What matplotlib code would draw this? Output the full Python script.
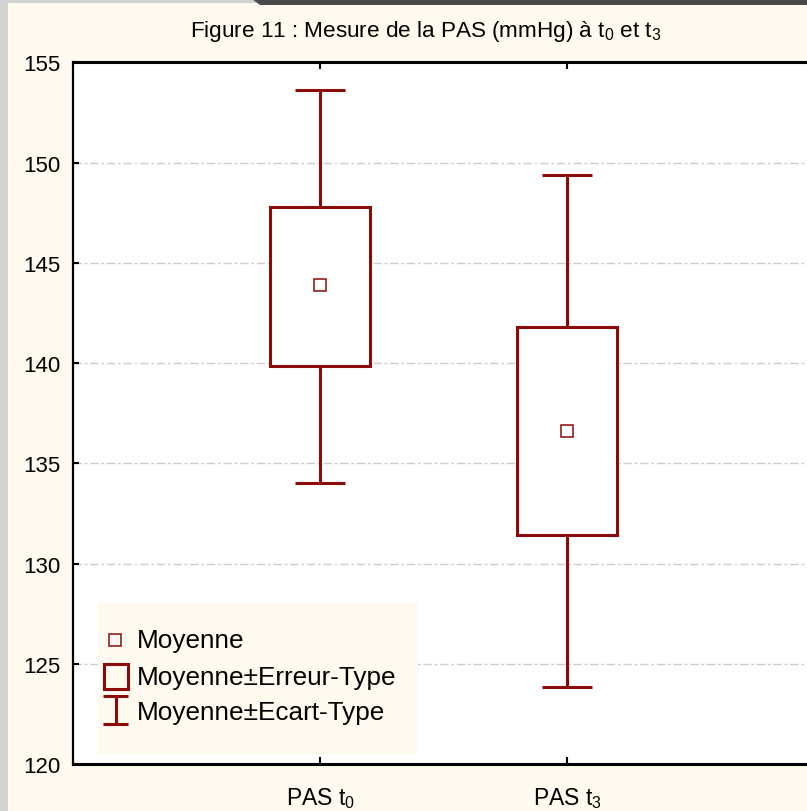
import matplotlib
matplotlib.use("Agg")
import matplotlib.pyplot as plt
from matplotlib.patches import Rectangle, Polygon
from matplotlib.lines import Line2D
from matplotlib.transforms import Affine2D

plt.rcParams['font.family'] = ['Liberation Sans', 'DejaVu Sans']
plt.rcParams['mathtext.fontset'] = 'custom'
plt.rcParams['mathtext.rm'] = 'Liberation Sans'
plt.rcParams['mathtext.it'] = 'Liberation Sans'
plt.rcParams['mathtext.bf'] = 'Liberation Sans'

# ---- data ----
categories = [r'PAS t$_0$', r'PAS t$_3$']
means = [143.9, 136.6]
se_low = [139.85, 131.4]
se_high = [147.8, 141.8]
sd_low = [134.0, 123.85]
sd_high = [153.6, 149.4]
yticks = [120, 125, 130, 135, 140, 145, 150, 155]

W, H = 807, 812
DPI = 100
RED = '#8B0A0A'
BG = '#FFFAF0'

fig = plt.figure(figsize=(W / DPI, H / DPI), dpi=DPI, facecolor=BG)
px = Affine2D().scale(1 / W, -1 / H).translate(0, 1) + fig.transFigure

# screenshot frame
fig.patches.append(Rectangle((0, 0), 8, H, transform=px, facecolor='#D2D2D2', edgecolor='none', zorder=0))
fig.patches.append(Rectangle((0, 0), W, 4, transform=px, facecolor='#D2D2D2', edgecolor='none', zorder=0))
fig.patches.append(Polygon([(252, 0), (W, 0), (W, 6), (260, 6)], closed=True, transform=px,
                           facecolor='#4A4A4A', edgecolor='none', zorder=0))

ax_left, ax_right, ax_top, ax_bottom = 73, 814, 63.3, 765
ax = fig.add_axes([ax_left / W, 1 - ax_bottom / H, (ax_right - ax_left) / W, (ax_bottom - ax_top) / H])
ax.set_facecolor('white')
ax.set_xlim(0, 3)
ax.set_ylim(120, 155)

xpos = [1, 2]
box_w = 0.405
cap_w = 0.206
for x, m, sl, sh, dl, dh in zip(xpos, means, se_low, se_high, sd_low, sd_high):
    ax.add_patch(Rectangle((x - box_w / 2, sl), box_w, sh - sl, facecolor='white',
                           edgecolor=RED, linewidth=2.2, zorder=3))
    ax.plot([x, x], [sh, dh], color=RED, lw=2.2, zorder=3, solid_capstyle='butt')
    ax.plot([x, x], [dl, sl], color=RED, lw=2.2, zorder=3, solid_capstyle='butt')
    ax.plot([x - cap_w / 2, x + cap_w / 2], [dh, dh], color=RED, lw=2.2, zorder=3, solid_capstyle='butt')
    ax.plot([x - cap_w / 2, x + cap_w / 2], [dl, dl], color=RED, lw=2.2, zorder=3, solid_capstyle='butt')
    ax.plot([x], [m], marker='s', markersize=8.3, markerfacecolor='white',
            markeredgecolor=RED, markeredgewidth=1.1, zorder=4, linestyle='none')

ax.set_yticks(yticks)
ax.set_yticklabels([str(v) for v in yticks], fontsize=16)
ax.set_xticks(xpos)
ax.set_xticklabels(categories, fontsize=16.5)
ax.tick_params(axis='y', direction='in', length=4, width=1.5, pad=9)
ax.tick_params(axis='x', direction='in', length=5, width=1.5, pad=15, top=True)
for v in yticks[1:-1]:
    ax.axhline(v, color='#CDCDCD', lw=1.0, linestyle=(0, (6, 2, 2, 2)), zorder=1)

for s in ['left']:
    ax.spines[s].set_linewidth(1.6)
for s in ['top', 'bottom']:
    ax.spines[s].set_linewidth(2.2)
ax.spines['right'].set_visible(False)

# title
fig.text(426 / W, 1 - 31 / H, r'Figure 11 : Mesure de la PAS (mmHg) à t$_0$ et t$_3$',
         ha='center', va='center', fontsize=16.2)

# legend (drawn in pixel coords)
fig.patches.append(Rectangle((98, 604), 320, 151, transform=px, facecolor=BG, edgecolor='none', zorder=5))
fig.lines.append(Line2D([114.5], [641], transform=px, marker='s', markersize=8.3, markerfacecolor='none',
                        markeredgecolor=RED, markeredgewidth=1.1, linestyle='none', zorder=6))
fig.patches.append(Rectangle((103.5, 665), 24, 25, transform=px, facecolor='none', edgecolor=RED,
                             linewidth=2.2, zorder=6))
for seg in [([103, 128], [697, 697]), ([103, 128], [725, 725]), ([115.5, 115.5], [697, 725])]:
    fig.lines.append(Line2D(seg[0], seg[1], transform=px, color=RED, lw=2.2, zorder=6, solid_capstyle='butt'))
for txt, yy in [('Moyenne', 641), ('Moyenne±Erreur-Type', 678), ('Moyenne±Ecart-Type', 713)]:
    fig.text(137 / W, 1 - yy / H, txt, fontsize=18.8, ha='left', va='center', zorder=7)

fig.savefig('out.png', dpi=DPI, facecolor=BG)
